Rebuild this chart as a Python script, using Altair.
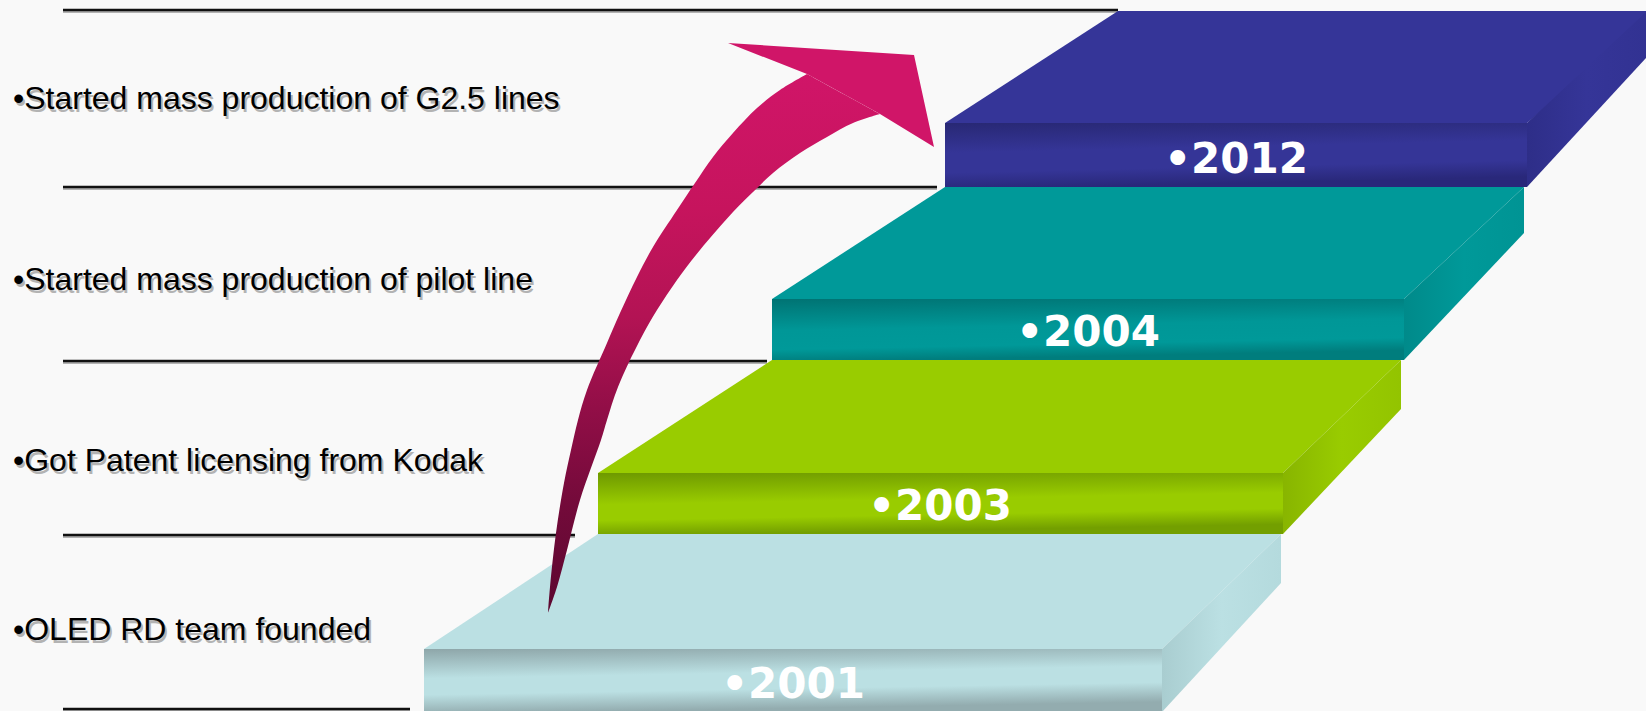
import altair as alt
import pandas as pd

W, H = 1646, 711

# ---------------- text content ----------------
events = [
    "•OLED RD team founded",
    "•Got Patent licensing from Kodak",
    "•Started mass production of pilot line",
    "•Started mass production of G2.5 lines",
]
event_x = [13, 13, 13, 13]
event_baseline = [640, 471, 290, 109]

years = ["•2001", "•2003", "•2004", "•2012"]
year_x = [793, 940, 1088, 1236]
year_baseline = [698, 520, 346, 173]

# ---------------- separator lines ----------------
rule_y = [10, 187, 361, 535, 709]
rule_x1 = [63, 63, 63, 63, 63]
rule_x2 = [1118, 937, 767, 575, 410]

# ---------------- step blocks (vertices: x list, y list) ----------------
b2001_front_x = [424, 1162, 1162, 424]
b2001_front_y = [649, 649, 712, 712]
b2001_top_x = [424, 598, 1281, 1162]
b2001_top_y = [649, 534, 534, 649]
b2001_side_x = [1162, 1281, 1281, 1162]
b2001_side_y = [649, 534, 583, 712]

b2003_front_x = [598, 1283, 1283, 598]
b2003_front_y = [473, 473, 534, 534]
b2003_top_x = [598, 772, 1401, 1283]
b2003_top_y = [473, 360, 360, 473]
b2003_side_x = [1283, 1401, 1401, 1283]
b2003_side_y = [473, 360, 409, 534]

b2004_front_x = [772, 1404, 1404, 772]
b2004_front_y = [299, 299, 360, 360]
b2004_top_x = [772, 945, 1524, 1404]
b2004_top_y = [299, 187, 187, 299]
b2004_side_x = [1404, 1524, 1524, 1404]
b2004_side_y = [299, 187, 233, 360]

b2012_front_x = [945, 1527, 1527, 945]
b2012_front_y = [123, 123, 187, 187]
b2012_top_x = [945, 1118, 1660, 1527]
b2012_top_y = [123, 11, 11, 123]
b2012_side_x = [1527, 1647, 1647, 1527]
b2012_side_y = [123, 11, 57, 187]

# ---------------- arrow ----------------
# outer edge, from the tail up to the head (corner point repeated = sharp corner)
arrow_outer_x = [548, 550, 556, 564, 571, 578, 587, 607, 620, 637, 653, 677, 695, 713, 733, 757, 780, 807, 807]
arrow_outer_y = [613, 587, 533, 483, 450, 420, 390, 343, 313, 277, 247, 210, 183, 157, 133, 108, 90, 74, 74]
# inner edge, from the head down to the tail
arrow_inner_x = [880, 880, 853, 827, 800, 773, 753, 733, 700, 677, 657, 640, 618, 607, 601, 580, 567, 557, 548]
arrow_inner_y = [114, 114, 123, 137, 153, 173, 192, 212, 250, 280, 310, 340, 387, 420, 440, 500, 550, 587, 613]
head_x = [807, 728, 914, 934, 880]
head_y = [74, 43, 55, 147, 114]

XS = alt.Scale(domain=[0, W], nice=False, zero=False)
YS = alt.Scale(domain=[0, H], reverse=True, nice=False, zero=False)


def grad(stops, x1=0, y1=0, x2=0, y2=1):
    return alt.LinearGradient(
        gradient="linear",
        stops=[alt.GradientStop(offset=o, color=c) for o, c in stops],
        x1=x1, y1=y1, x2=x2, y2=y2,
    )


def poly(xs, ys, fill, interp="linear-closed"):
    df = pd.DataFrame({"x": xs, "y": ys, "i": list(range(len(xs)))})
    return alt.Chart(df).mark_line(
        filled=True, fill=fill, strokeOpacity=0, interpolate=interp
    ).encode(
        x=alt.X("x:Q", scale=XS, axis=None),
        y=alt.Y("y:Q", scale=YS, axis=None),
        order=alt.Order("i:Q"),
    )


layers = []

# separator lines (shadow + line)
rules_df = pd.DataFrame({"x": rule_x1, "x2": rule_x2, "y": rule_y})
rules_df["ys"] = rules_df["y"] + 2
layers.append(
    alt.Chart(rules_df).mark_rule(color="#9a9a9a", strokeWidth=1.5).encode(
        x=alt.X("x:Q", scale=XS, axis=None), x2="x2:Q",
        y=alt.Y("ys:Q", scale=YS, axis=None),
    )
)
layers.append(
    alt.Chart(rules_df).mark_rule(color="#111111", strokeWidth=2.4).encode(
        x=alt.X("x:Q", scale=XS, axis=None), x2="x2:Q",
        y=alt.Y("y:Q", scale=YS, axis=None),
    )
)

# blocks, bottom to top
layers += [
    poly(b2001_top_x, b2001_top_y, "#bbe0e3"),
    poly(b2001_side_x, b2001_side_y, grad([(0, "#a9cdd0"), (0.5, "#bbe0e3"), (1, "#b4dadd")], 0, 0, 1, 0)),
    poly(b2001_front_x, b2001_front_y, grad([(0, "#8ea6a9"), (0.45, "#bbe0e3"), (0.7, "#bbe0e3"), (1, "#93acaf")], 0, 0, 0.2, 1)),
    poly(b2003_top_x, b2003_top_y, "#99cc00"),
    poly(b2003_side_x, b2003_side_y, grad([(0, "#88b500"), (0.5, "#99cc00"), (1, "#93c400")], 0, 0, 1, 0)),
    poly(b2003_front_x, b2003_front_y, grad([(0, "#6e9900"), (0.5, "#99cc00"), (0.75, "#99cc00"), (1, "#739f00")], 0, 0, 0.2, 1)),
    poly(b2004_top_x, b2004_top_y, "#009999"),
    poly(b2004_side_x, b2004_side_y, grad([(0, "#008a8a"), (0.5, "#009999"), (1, "#009494")], 0, 0, 1, 0)),
    poly(b2004_front_x, b2004_front_y, grad([(0, "#007373"), (0.5, "#009797"), (0.8, "#009999"), (1, "#007d7d")], 0, 0, 0.2, 1)),
    poly(b2012_top_x, b2012_top_y, "#353598"),
    poly(b2012_side_x, b2012_side_y, grad([(0, "#2e2e88"), (0.5, "#353598"), (1, "#323292")], 0, 0, 1, 0)),
    poly(b2012_front_x, b2012_front_y, grad([(0, "#282874"), (0.45, "#353597"), (0.75, "#353597"), (1, "#29287a")], 0, 0, 0.2, 1)),
]

# year labels
years_df = pd.DataFrame({"x": year_x, "y": year_baseline, "t": years})
layers.append(
    alt.Chart(years_df).mark_text(
        font="DejaVu Sans", fontWeight="bold", fontSize=42, color="white",
        align="center", baseline="alphabetic",
    ).encode(
        x=alt.X("x:Q", scale=XS, axis=None),
        y=alt.Y("y:Q", scale=YS, axis=None),
        text="t:N",
    )
)

# arrow: smooth band starting and ending at the sharp tail, then the head
band_x = arrow_outer_x + arrow_inner_x
band_y = arrow_outer_y + arrow_inner_y
layers.append(
    poly(band_x, band_y, grad([(0, "#d01568"), (0.25, "#c6145d"), (0.45, "#b31354"),
                               (0.62, "#920e47"), (0.8, "#730a3a"), (1, "#5c0830")]),
         interp="catmull-rom")
)
layers.append(poly(head_x, head_y, "#d01568"))

# event labels with soft shadow
ev_df = pd.DataFrame({"x": event_x, "y": event_baseline, "t": events})
ev_df["xs"] = ev_df["x"] + 2
ev_df["ys"] = ev_df["y"] + 3
layers.append(
    alt.Chart(ev_df).mark_text(
        font="Liberation Sans", fontSize=32, color="#7a7a7a", opacity=0.55,
        align="left", baseline="alphabetic",
    ).encode(
        x=alt.X("xs:Q", scale=XS, axis=None),
        y=alt.Y("ys:Q", scale=YS, axis=None),
        text="t:N",
    )
)
layers.append(
    alt.Chart(ev_df).mark_text(
        font="Liberation Sans", fontSize=32, color="#000000",
        align="left", baseline="alphabetic",
    ).encode(
        x=alt.X("x:Q", scale=XS, axis=None),
        y=alt.Y("y:Q", scale=YS, axis=None),
        text="t:N",
    )
)

chart = alt.layer(*layers).properties(
    width=W, height=H, background="#f9f9f9", padding=0,
    autosize=alt.AutoSizeParams(type="none"),
).configure_view(strokeOpacity=0)

chart.save("out.html", embed_options={"renderer": "svg", "actions": False})
